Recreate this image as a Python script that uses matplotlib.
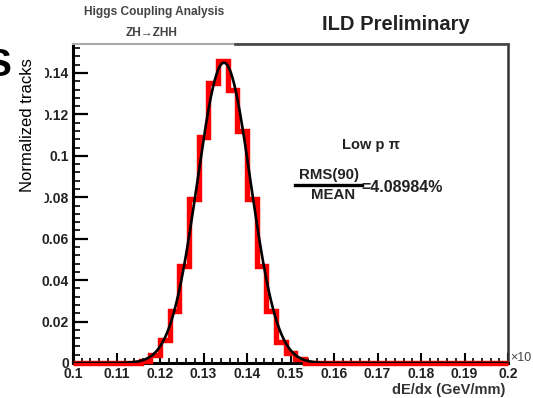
import numpy as np
import matplotlib
matplotlib.use("Agg")
import matplotlib.pyplot as plt
from matplotlib.ticker import MultipleLocator, FuncFormatter

plt.rcParams['font.family'] = ['Liberation Sans', 'DejaVu Sans']

# histogram: 45 bins between 0.1 and 0.2 GeV/mm, normalised track fraction
bin_edges = np.linspace(0.1, 0.2, 46)
bin_values = [0, 0, 0, 0, 0, 0, 0, 0.001, 0.004, 0.011,
              0.025, 0.047, 0.079, 0.109, 0.135, 0.146, 0.132, 0.112, 0.079, 0.047,
              0.025, 0.010, 0.005, 0.002, 0, 0, 0, 0, 0, 0,
              0, 0, 0, 0, 0, 0, 0, 0, 0, 0,
              0, 0, 0, 0, 0]

# gaussian fit drawn on top (parameters)
fit_amp = 0.145
fit_mean = 0.1347
fit_sigma = 0.0061

y_ticks = [0, 0.02, 0.04, 0.06, 0.08, 0.10, 0.12, 0.14]
x_ticks = [0.1, 0.11, 0.12, 0.13, 0.14, 0.15, 0.16, 0.17, 0.18, 0.19, 0.2]

W, H = 533, 398
fig = plt.figure(figsize=(W / 100, H / 100), dpi=100)
ax = fig.add_axes([73 / W, 1 - 363 / H, (508 - 73) / W, (363 - 44) / H])


def fpos(x, y):
    """pixel position in the picture -> figure fraction"""
    return x / W, 1 - y / H


ax.stairs(bin_values, bin_edges, color='#ff0000', linewidth=3.9,
          clip_on=False, zorder=3)
xs = np.linspace(0.1, 0.2, 800)
ax.plot(xs, fit_amp * np.exp(-0.5 * ((xs - fit_mean) / fit_sigma) ** 2),
        color='black', linewidth=1.9, zorder=4)

ax.set_xlim(0.1, 0.2)
ax.set_ylim(0, 0.154)
ax.set_xticks(x_ticks)
ax.set_yticks(y_ticks)
ax.xaxis.set_minor_locator(MultipleLocator(0.002))
ax.yaxis.set_minor_locator(MultipleLocator(0.004))
fmt = FuncFormatter(lambda v, p: f'{round(v, 4):g}')
ax.xaxis.set_major_formatter(fmt)
ax.yaxis.set_major_formatter(fmt)

ax.tick_params(axis='both', which='both', direction='in', top=False, right=False,
               colors='black', labelcolor='#222222')
ax.tick_params(axis='y', which='major', length=11, width=1.6, pad=3, labelsize=10)
ax.tick_params(axis='y', which='minor', length=5, width=1.2)
ax.tick_params(axis='x', which='major', length=7, width=1.5, pad=3, labelsize=10)
ax.tick_params(axis='x', which='minor', length=3.5, width=1.2)
for lab in ax.get_xticklabels() + ax.get_yticklabels():
    lab.set_fontweight('bold')

for side in ['left', 'bottom']:
    ax.spines[side].set_linewidth(2.2)
    ax.spines[side].set_color('black')
ax.spines['right'].set_linewidth(1.8)
ax.spines['right'].set_color('#333333')
ax.spines['top'].set_linewidth(1.5)
ax.spines['top'].set_color('#aaaaaa')
ax.plot([(235 - 73) / 435, 1], [1, 1], transform=ax.transAxes, color='#444444',
        linewidth=1.9, clip_on=False, zorder=5)

# header texts
fig.text(*fpos(154, 12), 'Higgs Coupling Analysis', ha='center', va='center',
         fontsize=8.6, fontweight='bold', color='#444444')
fig.text(*fpos(152, 33), 'ZH\u2192ZHH', ha='center', va='center',
         fontsize=8.6, fontweight='bold', color='#444444')
fig.text(*fpos(396, 25), 'ILD Preliminary', ha='center', va='center',
         fontsize=14.5, fontweight='bold', color='#222222')

# annotation inside the frame
fig.text(*fpos(371, 145), 'Low p \u03c0', ha='center', va='center',
         fontsize=10.5, fontweight='bold', color='#222222')
fig.text(*fpos(329, 175), 'RMS(90)', ha='center', va='center',
         fontsize=10.8, fontweight='bold', color='#222222')
fig.text(*fpos(333, 195), 'MEAN', ha='center', va='center',
         fontsize=10.8, fontweight='bold', color='#222222')
fig.add_artist(plt.Line2D([295 / W, 362 / W], [1 - 185 / H, 1 - 185 / H],
                          color='black', linewidth=2.4))
fig.text(*fpos(361, 187), '=4.08984%', ha='left', va='center',
         fontsize=11.5, fontweight='bold', color='#222222')

# axis titles
fig.text(*fpos(505, 390), 'dE/dx (GeV/mm)', ha='right', va='center',
         fontsize=10.5, fontweight='bold', color='#333333')
fig.text(*fpos(510, 358), '\u00d710', ha='left', va='center',
         fontsize=9, color='#444444')
fig.text(*fpos(28, 125), 'Normalized tracks', rotation=90, ha='center',
         va='center', fontsize=12, color='black',
         bbox=dict(facecolor='white', edgecolor='none', pad=7), zorder=10)
fig.text(*fpos(-1, 66), 'S', ha='center', va='center', fontsize=28,
         fontweight='bold', color='black', zorder=11)

fig.savefig('out.png', dpi=100)
